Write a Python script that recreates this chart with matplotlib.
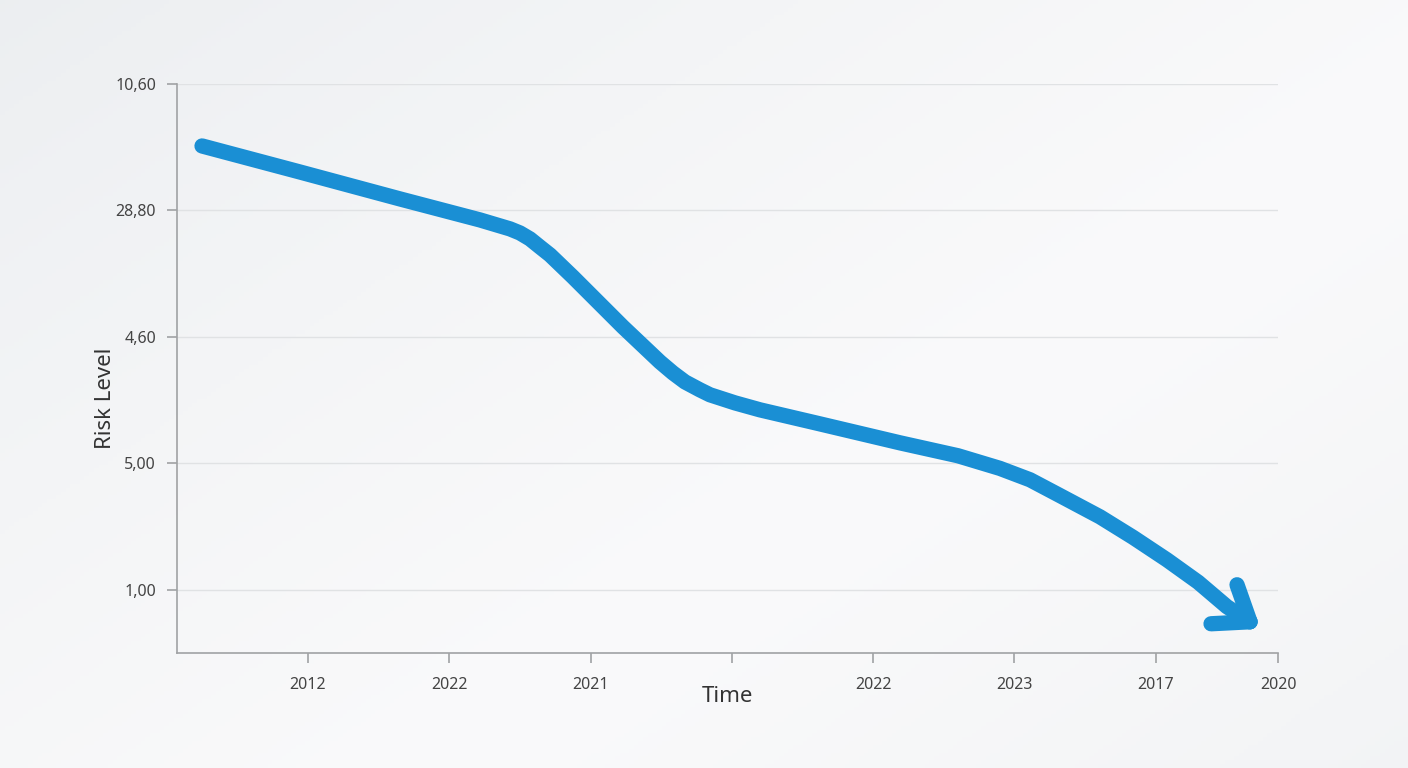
import numpy as np
import matplotlib
matplotlib.use("Agg")
import matplotlib.pyplot as plt

plt.rcParams['font.family'] = ['Noto Sans', 'DejaVu Sans']

# tick labels as printed on the chart
x_ticks = [0, 1, 2, 3, 4, 5, 6, 6.865]
x_labels = ['2012', '2022', '2021', '', '2022', '2023', '2017', '2020']
y_labels = ['1,00', '5,00', '4,60', '28,80', '10,60']

# risk curve, in tick units (x: tick index, y: gridline index)
curve_x = [-0.750, -0.057, 0.651, 1.217, 1.430, 1.500, 1.571, 1.642, 1.713, 1.875,
           2.229, 2.491, 2.583, 2.668, 2.774, 2.845, 3.022, 3.199, 3.623, 4.190,
           4.600, 4.897, 5.110, 5.322, 5.605, 5.839, 6.079, 6.300, 6.504, 6.667]
curve_y = [3.510, 3.304, 3.091, 2.925, 2.854, 2.822, 2.775, 2.711, 2.648, 2.474,
           2.079, 1.802, 1.715, 1.644, 1.581, 1.542, 1.478, 1.423, 1.312, 1.162,
           1.060, 0.960, 0.870, 0.745, 0.577, 0.415, 0.237, 0.060, -0.134, -0.253]

BLUE = '#1a8fd4'

fig = plt.figure(figsize=(14.08, 7.68), dpi=100)

# soft grey background gradient
bg = fig.add_axes([0, 0, 1, 1], zorder=-10)
gx, gy = np.meshgrid(np.linspace(0, 1, 300), np.linspace(0, 1, 200))
shade = np.clip(0.55 * gx + 0.45 * (1 - gy), 0, 1)
base = np.array([232, 235, 238]) / 255.0
light = np.array([250, 250, 251]) / 255.0
w = np.clip(1 - np.abs(shade - 0.62) / 0.7, 0, 1) ** 0.7
img = base + (light - base) * w[..., None]
bg.imshow(np.clip(img, 0, 1), aspect='auto', extent=[0, 1, 0, 1], origin='lower')
bg.axis('off')

ax = fig.add_axes([177/1408, 1 - 653/768, 1101/1408, 569/768])
ax.patch.set_alpha(0)
ax.set_xlim(-0.927, 6.865)
ax.set_ylim(-0.5, 4)

ax.plot(curve_x, curve_y, color=BLUE, lw=11, solid_capstyle='round',
        solid_joinstyle='round', zorder=3)

# open arrowhead at the end of the curve
tip = ax.transData.transform((curve_x[-1], curve_y[-1]))
inv = ax.transData.inverted()
for off in [(-13, 37), (-39, -2)]:
    end = inv.transform(tip + np.array(off))
    ax.plot([end[0], curve_x[-1]], [end[1], curve_y[-1]], color=BLUE, lw=11,
            solid_capstyle='round', zorder=3)

ax.set_xticks(x_ticks)
ax.set_xticklabels(x_labels)
ax.set_yticks(range(len(y_labels)))
ax.set_yticklabels(y_labels)

ax.grid(axis='y', color='#e0e2e4', lw=1)
ax.set_axisbelow(True)
for s in ['top', 'right']:
    ax.spines[s].set_visible(False)
for s in ['left', 'bottom']:
    ax.spines[s].set_color('#a0a2a4')
    ax.spines[s].set_linewidth(1.2)

ax.tick_params(axis='both', colors='#a0a2a4', length=7, width=1.2,
               labelcolor='#444444', labelsize=11.5)
ax.tick_params(axis='x', pad=10)
ax.tick_params(axis='y', pad=8)

ax.set_xlabel('Time', fontsize=16, color='#333333', va='center')
ax.xaxis.set_label_coords(0.5, -44/569)
ax.set_ylabel('Risk Level', fontsize=16, color='#333333', va='center')
ax.yaxis.set_label_coords(-0.065, 0.448)

fig.savefig('out.png', dpi=100)
